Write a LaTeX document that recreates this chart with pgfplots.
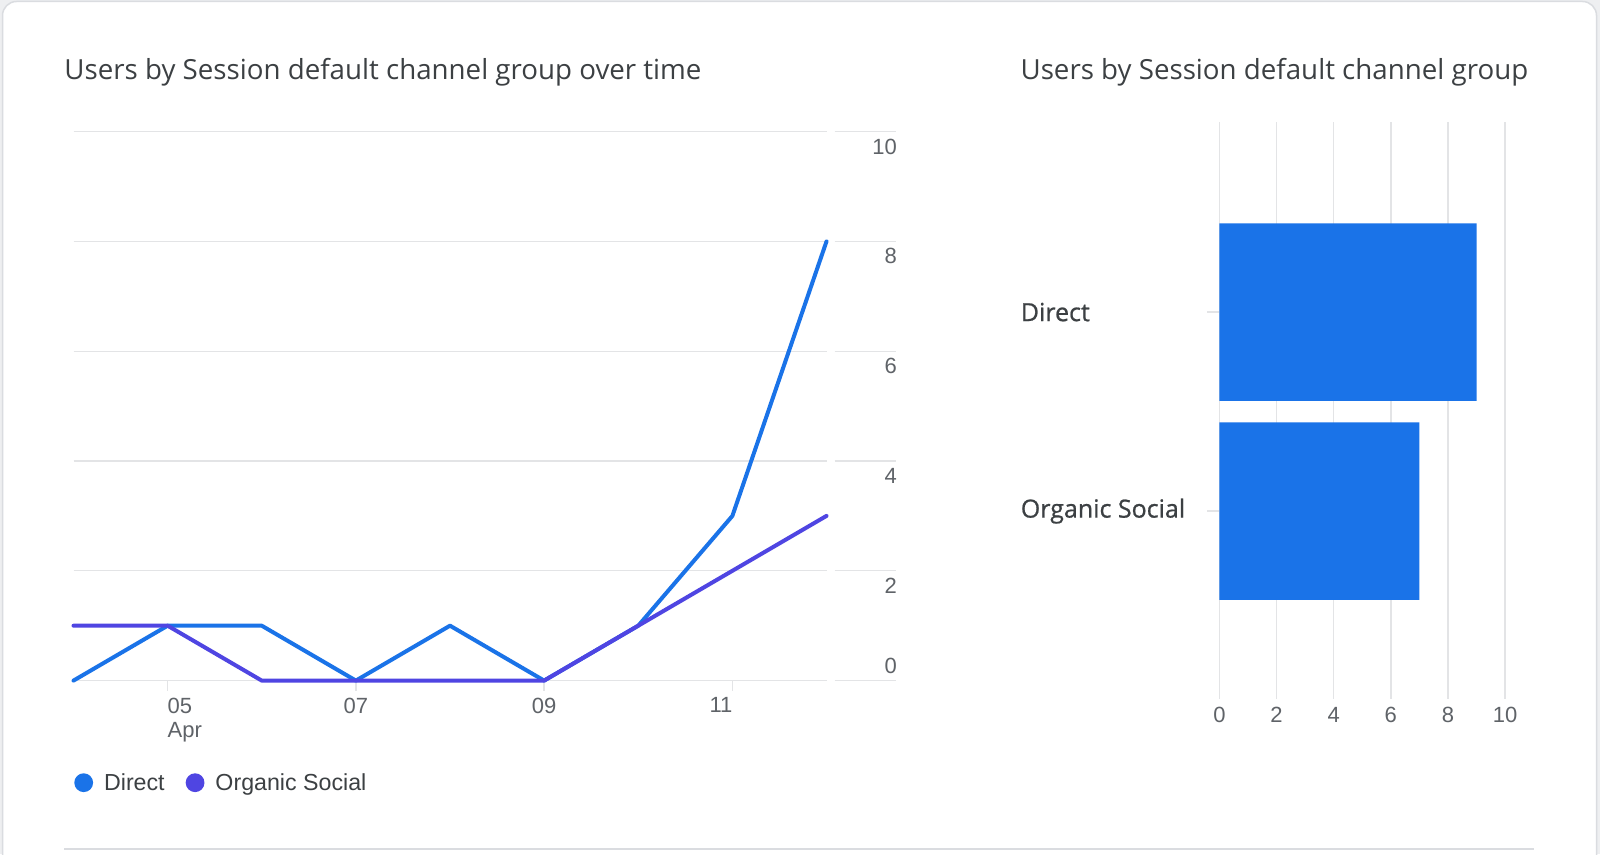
\documentclass[border=0pt]{standalone}
\usepackage{fontspec}
\usepackage{pgfplots}
\pgfplotsset{compat=1.18}
\setmainfont{Liberation Sans}
\newfontfamily\titlefont{Open Sans}
\newfontfamily\medfont{Open Sans}[FakeBold=0.8]
\definecolor{bggray}{HTML}{EEEFF1}
\definecolor{cardborder}{HTML}{DADCE0}
\definecolor{gridgray}{HTML}{E3E4E6}
\definecolor{tickgray}{HTML}{5F6368}
\definecolor{textdark}{HTML}{3C4043}
\definecolor{cblue}{HTML}{1A73E8}
\definecolor{cpurple}{HTML}{4F45E2}
\begin{document}
\begin{tikzpicture}[x=1bp,y=1bp]
\useasboundingbox (0,0) rectangle (1600,854);
\fill[bggray] (0,0) rectangle (1600,854);
\filldraw[fill=white, draw=cardborder, line width=1.5bp, rounded corners=14bp] (2.5,-30) rectangle (1596.5,852.5);
\draw[cardborder, line width=2.2bp] (64.3,5) -- (1533.7,5);
\node[anchor=west, inner sep=0, text=textdark, font=\titlefont\fontsize{27.7bp}{32bp}\selectfont] at (64.3,782) {Users by Session default channel group over time};
\node[anchor=west, inner sep=0, text=textdark, font=\titlefont\fontsize{27.7bp}{32bp}\selectfont] at (1020.4,782) {Users by Session default channel group};
\foreach \k in {0,...,5} \draw[gridgray, line width=1.3bp] (834.7,173.4+\k*109.8) -- (896,173.4+\k*109.8);

\begin{axis}[
  at={(73.5bp,173.4bp)}, anchor=south west,
  scale only axis, width=753bp, height=549bp,
  xmin=4, xmax=12, ymin=0, ymax=10,
  axis line style={draw=none},
  ymajorgrids, grid style={gridgray, line width=1.3bp},
  ytick={2,4,6,8,10},
  extra y ticks={0},
  extra y tick style={yticklabel style={yshift=30bp}, grid=major},
  ytick pos=right,
  yticklabel pos=right,
  ytick style={draw=none},
  yticklabel style={anchor=east, inner sep=0pt, xshift=60.5bp, yshift=-15bp, text=tickgray, font=\fontsize{22bp}{26bp}\selectfont},
  xtick={5,7,9,11},
  xticklabels={{\rlap{05}\\\rlap{Apr}},07,09,{\llap{11}}},
  xtick pos=bottom,
  tick align=outside,
  major tick length=10bp,
  xtick style={draw=gridgray, line width=1.3bp},
  xticklabel style={anchor=north, align=center, inner sep=0pt, yshift=-7bp, text=tickgray, font=\fontsize{22bp}{24bp}\selectfont},
  /pgf/number format/assume math mode=true,
  clip=false,
  legend columns=2,
  legend style={at={(rel axis cs:0,0)}, anchor=west, xshift=0.8bp, yshift=-102.1bp, draw=none, fill=none, inner sep=0pt, outer sep=0pt,
    nodes={inner sep=0pt, text=textdark, font=\fontsize{23.2bp}{27bp}\selectfont},
    /tikz/every even column/.append style={column sep=21bp}},
  legend image code/.code={\path[fill, draw=none] (9.4bp,0bp) circle (9.4bp); \path[draw=none] (0bp,0bp) -- (29.8bp,0bp);},
]
\addplot[cblue, line width=4bp, line join=round, line cap=round] coordinates {(4,0) (5,1) (6,1) (7,0) (8,1) (9,0) (10,1) (11,3) (12,8)};
\addlegendentry{Direct}
\addplot[cpurple, line width=4bp, line join=round, line cap=round] coordinates {(4,1) (5,1) (6,0) (7,0) (8,0) (9,0) (10,1) (11,2) (12,3)};
\addlegendentry{Organic Social}
\end{axis}

\begin{axis}[
  at={(1219.4bp,155bp)}, anchor=south west,
  scale only axis, width=285.7bp, height=576.6bp,
  xmin=0, xmax=10, ymin=-0.944, ymax=1.953,
  axis line style={draw=none},
  xmajorgrids, grid style={gridgray, line width=1.5bp},
  xtick={0,2,4,6,8,10},
  xtick style={draw=none},
  xtick pos=bottom,
  xticklabel style={anchor=center, yshift=-4bp, inner sep=0pt, text=tickgray, font=\fontsize{22bp}{26bp}\selectfont},
  ytick={0,1},
  yticklabels={Organic Social, Direct},
  ytick pos=left,
  tick align=outside,
  major tick length=12bp,
  ytick style={draw=gridgray, line width=1.3bp},
  yticklabel style={anchor=west, inner sep=0pt, xshift=-186.8bp, text=textdark, font=\medfont\fontsize{25bp}{29bp}\selectfont},
  /pgf/number format/assume math mode=true,
  clip=false,
]
\addplot[xbar, bar width=177.5bp, fill=cblue, draw=none] coordinates {(9,1) (7,0)};
\end{axis}
\end{tikzpicture}
\end{document}
